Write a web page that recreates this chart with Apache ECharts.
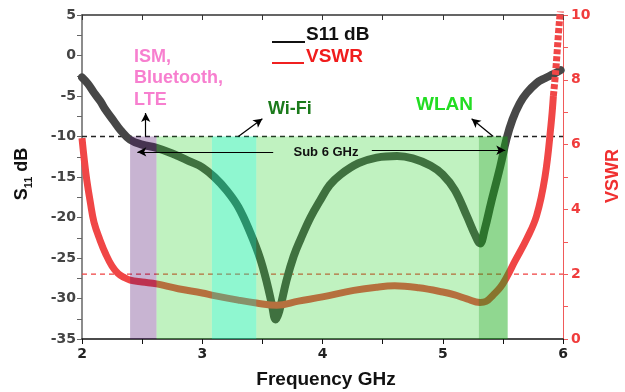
<!DOCTYPE html>
<html><head><meta charset="utf-8">
<script src="https://cdn.jsdelivr.net/npm/echarts@6/dist/echarts.min.js"></script>
<style>html,body{margin:0;padding:0;background:#fff}#c{width:625px;height:392px}</style>
</head><body><div id="c"></div>
<script>
// ---- data ----
const freqS11 = [2.00,2.05,2.10,2.15,2.20,2.26,2.32,2.40,2.50,2.62,2.75,2.90,3.00,3.10,3.20,3.30,3.40,3.48,3.54,3.58,3.61,3.64,3.70,3.76,3.82,3.90,3.98,4.06,4.15,4.30,4.45,4.62,4.75,4.90,5.00,5.10,5.20,5.27,5.31,5.35,5.40,5.48,5.53,5.58,5.64,5.70,5.78,5.85,5.92,5.98];
const s11 =     [-2.7,-3.5,-4.6,-5.6,-6.8,-8.0,-9.2,-10.4,-11.0,-11.4,-12.1,-13.1,-13.8,-15.0,-16.6,-18.7,-21.9,-25.0,-28.2,-30.8,-32.6,-31.6,-27.8,-24.8,-22.6,-20.0,-17.9,-16.0,-14.7,-13.3,-12.6,-12.4,-12.7,-13.6,-14.7,-16.6,-19.8,-22.2,-23.2,-21.4,-18.3,-13.6,-10.3,-7.9,-5.9,-4.6,-3.4,-2.8,-2.3,-1.8];
const freqVswr = [2.00,2.02,2.04,2.07,2.10,2.15,2.20,2.25,2.30,2.35,2.40,2.50,2.62,2.80,3.00,3.10,3.30,3.45,3.62,3.80,4.00,4.26,4.45,4.60,4.80,5.00,5.10,5.20,5.31,5.36,5.42,5.48,5.53,5.60,5.70,5.78,5.85,5.90,5.92,5.94,5.97,5.99];
const vswr =     [6.2,5.5,4.9,4.2,3.6,3.05,2.6,2.25,2.02,1.9,1.82,1.76,1.7,1.55,1.42,1.34,1.2,1.11,1.04,1.17,1.3,1.5,1.6,1.64,1.58,1.45,1.36,1.24,1.13,1.16,1.36,1.6,1.9,2.4,3.1,3.8,5.0,6.6,7.5,8.3,9.8,10.5];
const xTicks = [2,3,4,5,6];
const s11Ticks = [5,0,-5,-10,-15,-20,-25,-30,-35];
const vswrTicks = [0,2,4,6,8,10];
// frequency bands (GHz): ISM/Bluetooth/LTE, Sub 6 GHz, Wi-Fi, Sub 6 GHz, WLAN
const bandFrom = [2.40, 2.62, 3.08, 3.45, 5.30];
const bandTo   = [2.62, 3.08, 3.45, 5.30, 5.54];
const bandKind = [0, 1, 2, 1, 3];
const s11Threshold = -10;
const vswrThreshold = 2;
const tailStart = 5.92;

// ---- styles ----
const bandColors = ['rgba(72,5,105,0.30)','rgba(45,211,45,0.30)','rgba(7,238,151,0.45)','rgba(18,169,18,0.465)'];
const F = '"Liberation Sans", Arial, sans-serif';
const FT = '"DejaVu Sans", sans-serif';

const chart = echarts.init(document.getElementById('c'), null, {renderer:'canvas'});
const s11Data = freqS11.map((f,i)=>[f,s11[i]]);
const vAll = freqVswr.map((f,i)=>[f,vswr[i]]);
const vMain = vAll.filter(p=>p[0]<=tailStart);
const vTail = vAll.filter(p=>p[0]>=tailStart);
const bandData = bandFrom.map((f,i)=>[f,bandTo[i],bandKind[i]]);

function arrow(a,b){ return [{coord:a},{coord:b}]; }

const option = {
  animation:false,
  grid:{left:82,right:62,top:15,bottom:53,containLabel:false},
  xAxis:[{
    type:'value',min:2,max:6,interval:1,position:'bottom',
    axisLine:{show:true,onZero:false,lineStyle:{color:'#111',width:1.5}},
    axisTick:{show:true,length:5,lineStyle:{color:'#111'}},
    minorTick:{show:true,splitNumber:2,length:5,lineStyle:{color:'#111'}},
    splitLine:{show:false},
    axisLabel:{color:'#222',fontWeight:'bold',fontSize:14,fontFamily:FT,margin:8}
  },{
    type:'value',min:2,max:6,interval:1,position:'top',
    axisLine:{show:true,onZero:false,lineStyle:{color:'#333',width:1.5}},
    axisTick:{show:true,inside:true,length:5,lineStyle:{color:'#333'}},
    minorTick:{show:true,splitNumber:2,length:5,lineStyle:{color:'#333'}},
    splitLine:{show:false},axisLabel:{show:false}
  }],
  yAxis:[{
    type:'value',min:-35,max:5,interval:5,position:'left',
    axisLine:{show:true,onZero:false,lineStyle:{color:'#666',width:1.5}},
    axisTick:{show:true,length:5,lineStyle:{color:'#666'}},
    minorTick:{show:true,splitNumber:2,length:5,lineStyle:{color:'#666'}},
    splitLine:{show:false},
    axisLabel:{color:'#444',fontWeight:'bold',fontSize:14,fontFamily:FT,margin:6}
  },{
    type:'value',min:0,max:10,interval:2,position:'right',
    axisLine:{show:true,onZero:false,lineStyle:{color:'#f05a5a',width:1}},
    axisTick:{show:true,length:5,lineStyle:{color:'#f05a5a'}},
    minorTick:{show:true,splitNumber:2,length:5,lineStyle:{color:'#f05a5a'}},
    splitLine:{show:false},
    axisLabel:{color:'#f03c3c',fontWeight:'bold',fontSize:14,fontFamily:FT,margin:8}
  }],
  series:[
    {name:'S11 -10 dB',type:'line',xAxisIndex:0,yAxisIndex:0,z:1,silent:true,symbol:'none',
     data:[[2,s11Threshold],[6,s11Threshold]],
     lineStyle:{color:'#222',width:1.3,type:[5,4]}},
    {name:'VSWR 2',type:'line',xAxisIndex:0,yAxisIndex:1,z:1,silent:true,symbol:'none',
     data:[[2,vswrThreshold],[6,vswrThreshold]],
     lineStyle:{color:'#f04040',width:1.3,type:[5,4]}},
    {name:'S11 dB',type:'line',xAxisIndex:0,yAxisIndex:0,z:2,symbol:'none',smooth:0.4,
     data:s11Data,lineStyle:{color:'#474747',width:8,cap:'round',join:'round'}},
    {name:'VSWR',type:'line',xAxisIndex:0,yAxisIndex:1,z:3,symbol:'none',smooth:0.4,
     data:vMain,lineStyle:{color:'#f04646',width:7,cap:'butt',join:'round'}},
    {name:'VSWR tail',type:'line',xAxisIndex:0,yAxisIndex:1,z:3,symbol:'none',smooth:0.3,
     data:vTail,lineStyle:{color:'#f04646',width:7,type:[5,2]}},
    {name:'bands',type:'custom',xAxisIndex:0,yAxisIndex:0,z:4,silent:true,
     data:bandData,
     renderItem:function(params,api){
       const p1 = api.coord([api.value(0), s11Threshold]);
       const p2 = api.coord([api.value(1), -35]);
       const idx = api.value(2);
       return {type:'rect',shape:{x:p1[0],y:p1[1],width:p2[0]-p1[0],height:p2[1]-p1[1]},
               style:{fill:bandColors[idx]}};
     }},
    {name:'arrows',type:'line',xAxisIndex:0,yAxisIndex:0,z:6,data:[],
     markLine:{silent:true,symbol:['none','arrow'],symbolSize:[7,9],
       label:{show:false},
       lineStyle:{color:'#000',width:1.2,type:'solid'},
       data:[
         arrow([2.53,-10],[2.53,-7.1]),
         arrow([3.30,-10],[3.50,-7.8]),
         arrow([3.59,-11.9],[2.46,-11.9]),
         arrow([4.41,-11.7],[5.52,-11.7]),
         arrow([5.42,-10],[5.24,-7.8])
       ]}}
  ],
  graphic:[
    {type:'text',x:22,y:174,rotation:Math.PI/2,z:10,
     style:{text:'{b|S}{s|11}{b| dB}',align:'center',verticalAlign:'middle',
       rich:{b:{font:'bold 18px '+F,fill:'#111',lineHeight:24,verticalAlign:'middle'},
             s:{font:'bold 11px '+F,fill:'#111',lineHeight:24,verticalAlign:'bottom',padding:[10,0,0,0]}}}},
    {type:'text',x:613,y:176,rotation:Math.PI/2,z:10,
     style:{text:'VSWR',font:'bold 18px '+F,fill:'#f03030',align:'center',verticalAlign:'middle'}},
    {type:'text',x:326,y:380,z:10,
     style:{text:'Frequency GHz',font:'bold 19px '+F,fill:'#111',align:'center',verticalAlign:'middle'}},
    {type:'line',z:10,shape:{x1:272,y1:42,x2:305,y2:42},style:{stroke:'#111',lineWidth:2}},
    {type:'text',x:306,y:35,z:10,style:{text:'S11 dB',font:'bold 19px '+F,fill:'#111',align:'left',verticalAlign:'middle'}},
    {type:'line',z:10,shape:{x1:272,y1:63,x2:304,y2:63},style:{stroke:'#f02020',lineWidth:2}},
    {type:'text',x:306,y:57,z:10,style:{text:'VSWR',font:'bold 19px '+F,fill:'#f01c1c',align:'left',verticalAlign:'middle'}},
    {type:'text',x:134,y:46,z:10,style:{text:'ISM,\nBluetooth,\nLTE',font:'bold 18px '+F,fill:'#f77fcf',lineHeight:21.5,align:'left',verticalAlign:'top'}},
    {type:'text',x:268,y:109,z:10,style:{text:'Wi-Fi',font:'bold 18px '+F,fill:'#1b7a1b',align:'left',verticalAlign:'middle'}},
    {type:'text',x:416,y:105,z:10,style:{text:'WLAN',font:'bold 19px '+F,fill:'#22dd22',align:'left',verticalAlign:'middle'}},
    {type:'text',x:326,y:152,z:10,style:{text:'Sub 6 GHz',font:'bold 13px '+F,fill:'#111',align:'center',verticalAlign:'middle'}}
  ]
};
chart.setOption(option);
</script>
</body></html>
